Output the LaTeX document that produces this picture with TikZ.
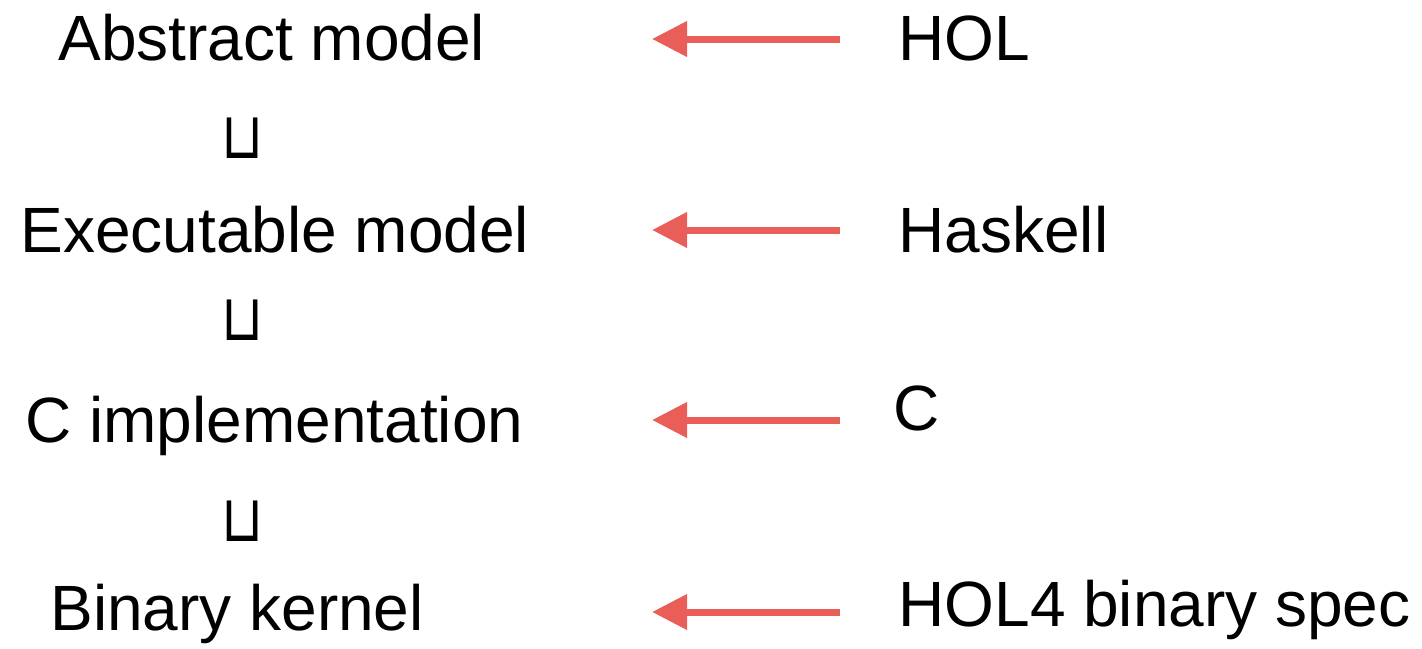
\documentclass[tikz,border=0pt]{standalone}
\usepackage{fontspec}
\setmainfont{Liberation Sans}
\newfontfamily\cupfont{DejaVu Sans}
\usetikzlibrary{arrows.meta}

\begin{document}
\begin{tikzpicture}[x=0.5pt, y=-0.5pt,
    lbl/.style={anchor=base west, inner sep=0pt, font=\fontsize{32}{38}\selectfont},
    refines/.style={inner sep=0pt, font=\cupfont\fontsize{27}{32}\selectfont},
    langarrow/.style={arrowcolor, line width=3.5pt, -{Triangle[length=17.5pt, width=17pt]}}]
    % Define colors
    \definecolor{arrowcolor}{RGB}{234, 94, 89}

    % Fix the canvas
    \useasboundingbox (0,0) rectangle (1422,648);

    % Define baselines for each level
    \def\yA{60}
    \def\yE{252}
    \def\yC{442}
    \def\yB{630}

    % Levels of the kernel on the left
    \node[lbl] (abstract) at (58, \yA) {Abstract model};
    \node[lbl] (exec) at (20, \yE) {Executable model};
    \node[lbl] (cimpl) at (25, \yC) {C implementation};
    \node[lbl] (binary) at (50, \yB) {Binary kernel};

    % Refinement symbols between the levels
    \node[refines] (refA) at (243, 138) {\scalebox{1}[1.2]{⊔}};
    \node[refines] (refE) at (243, 320) {\scalebox{1}[1.2]{⊔}};
    \node[refines] (refC) at (243, 521) {\scalebox{1}[1.2]{⊔}};

    % Languages on the right
    \node[lbl] (hol) at (898, \yA) {HOL};
    \node[lbl] (haskell) at (898, \yE) {Haskell};
    \node[lbl] (clang) at (893, 430) {C};
    \node[lbl] (holbin) at (898, 626) {HOL4 binary spec};

    % Arrow end points
    \coordinate (holS) at (840, 39);
    \coordinate (holT) at (652, 39);
    \coordinate (haskellS) at (840, 230);
    \coordinate (haskellT) at (652, 230);
    \coordinate (clangS) at (840, 420);
    \coordinate (clangT) at (652, 420);
    \coordinate (holbinS) at (840, 612);
    \coordinate (holbinT) at (652, 612);

    % Draw the arrows from each language to its level
    \draw[langarrow] (holS) -- (holT);
    \draw[langarrow] (haskellS) -- (haskellT);
    \draw[langarrow] (clangS) -- (clangT);
    \draw[langarrow] (holbinS) -- (holbinT);

\end{tikzpicture}
\end{document}
